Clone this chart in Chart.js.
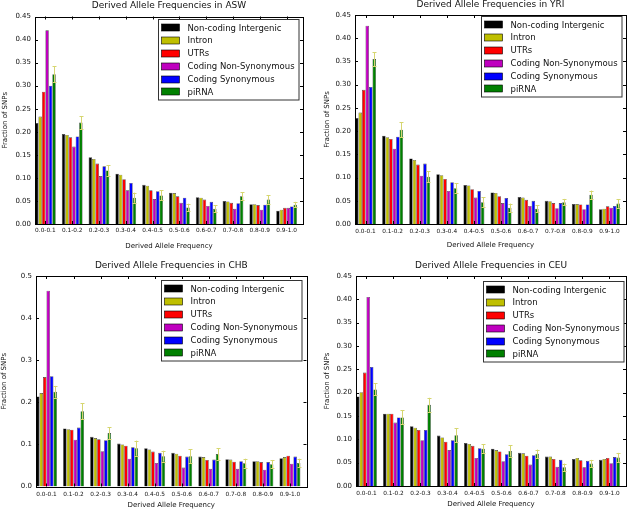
<!DOCTYPE html>
<html><head><meta charset="utf-8">
<script src="https://cdn.jsdelivr.net/npm/chart.js@4.4.0/dist/chart.umd.min.js"></script>
<style>
html,body{margin:0;padding:0;background:#fff;width:629px;height:510px;overflow:hidden;}
canvas{position:absolute;}
</style></head><body>
<canvas id="c1" width="314" height="255" style="left:0;top:0;width:314px;height:255px"></canvas>
<canvas id="c2" width="315" height="255" style="left:314px;top:0;width:315px;height:255px"></canvas>
<canvas id="c3" width="314" height="255" style="left:0;top:255px;width:314px;height:255px"></canvas>
<canvas id="c4" width="315" height="255" style="left:314px;top:255px;width:315px;height:255px"></canvas>
<script>
// ---------- data ----------
const categories = ['0.0-0.1','0.1-0.2','0.2-0.3','0.3-0.4','0.4-0.5','0.5-0.6','0.6-0.7','0.7-0.8','0.8-0.9','0.9-1.0'];
const seriesNames = ['Non-coding Intergenic','Intron','UTRs','Coding Non-Synonymous','Coding Synonymous','piRNA'];
const yTicks045 = ['0.00','0.05','0.10','0.15','0.20','0.25','0.30','0.35','0.40','0.45'];
const yTicks05 = ['0.0','0.1','0.2','0.3','0.4','0.5'];

// ASW
const aswIntergenic = [0.219,0.195,0.145,0.109,0.085,0.068,0.058,0.050,0.043,0.029];
const aswIntron     = [0.233,0.193,0.141,0.107,0.083,0.067,0.057,0.049,0.043,0.031];
const aswUTR        = [0.287,0.188,0.131,0.097,0.073,0.060,0.053,0.046,0.041,0.035];
const aswNonSyn     = [0.420,0.168,0.104,0.073,0.054,0.046,0.039,0.033,0.031,0.035];
const aswSyn        = [0.300,0.190,0.125,0.089,0.071,0.057,0.048,0.045,0.042,0.038];
const aswPiRNA      = [0.325,0.220,0.116,0.057,0.062,0.036,0.033,0.060,0.053,0.042];
const aswPiRNAErr   = [0.017,0.014,0.012,0.011,0.011,0.008,0.008,0.009,0.009,0.006];
// YRI
const yriIntergenic = [0.228,0.190,0.141,0.107,0.084,0.068,0.058,0.050,0.043,0.032];
const yriIntron     = [0.240,0.187,0.138,0.105,0.083,0.067,0.057,0.049,0.043,0.033];
const yriUTR        = [0.289,0.183,0.128,0.097,0.075,0.060,0.052,0.045,0.042,0.038];
const yriNonSyn     = [0.427,0.162,0.104,0.071,0.057,0.045,0.039,0.034,0.032,0.035];
const yriSyn        = [0.295,0.188,0.130,0.090,0.071,0.056,0.050,0.045,0.042,0.039];
const yriPiRNA      = [0.355,0.203,0.102,0.077,0.047,0.035,0.033,0.047,0.063,0.044];
const yriPiRNAErr   = [0.015,0.016,0.012,0.011,0.011,0.009,0.008,0.007,0.009,0.009];
// CHB
const chbIntergenic = [0.214,0.138,0.118,0.102,0.091,0.080,0.071,0.065,0.060,0.067];
const chbIntron     = [0.222,0.136,0.115,0.100,0.088,0.078,0.070,0.064,0.060,0.070];
const chbUTR        = [0.260,0.135,0.112,0.097,0.083,0.073,0.063,0.059,0.058,0.073];
const chbNonSyn     = [0.465,0.111,0.084,0.066,0.056,0.045,0.042,0.042,0.040,0.054];
const chbSyn        = [0.262,0.140,0.110,0.093,0.080,0.071,0.064,0.060,0.058,0.071];
const chbPiRNA      = [0.225,0.179,0.127,0.091,0.072,0.072,0.077,0.055,0.053,0.056];
const chbPiRNAErr   = [0.014,0.019,0.014,0.018,0.013,0.016,0.014,0.011,0.010,0.010];
// CEU
const ceuIntergenic = [0.192,0.155,0.128,0.108,0.092,0.080,0.071,0.063,0.058,0.056];
const ceuIntron     = [0.201,0.155,0.125,0.104,0.090,0.077,0.070,0.063,0.060,0.058];
const ceuUTR        = [0.243,0.155,0.120,0.095,0.086,0.074,0.065,0.058,0.055,0.060];
const ceuNonSyn     = [0.405,0.136,0.098,0.077,0.060,0.053,0.046,0.041,0.040,0.049];
const ceuSyn        = [0.255,0.147,0.120,0.098,0.081,0.068,0.066,0.056,0.054,0.062];
const ceuPiRNA      = [0.207,0.147,0.174,0.109,0.080,0.075,0.069,0.040,0.048,0.061];
const ceuPiRNAErr   = [0.013,0.015,0.015,0.015,0.009,0.012,0.009,0.008,0.008,0.010];

// ---------- styles ----------
const seriesColors = ['#000000','#bfbf00','#ff0000','#bf00bf','#0000ff','#008000'];
const FONT = '"DejaVu Sans", "Liberation Sans", sans-serif';
const TXT = '#111111';

const framePlugin = {
  id: 'frameTicks',
  afterDatasetsDraw(chart, args, opts) {
    const {ctx, chartArea: a} = chart;
    const xs = chart.scales.x, ys = chart.scales.y;
    ctx.save();
    // error bars on piRNA
    if (opts.errors) {
      const meta = chart.getDatasetMeta(5);
      const vals = chart.data.datasets[5].data;
      ctx.strokeStyle = '#d6d670';
      ctx.lineWidth = 1;
      meta.data.forEach((el, i) => {
        const v = vals[i].y, e = opts.errors[i];
        const y1 = ys.getPixelForValue(v + e), y2 = ys.getPixelForValue(v - e);
        const x = Math.round(el.x) + 0.5;
        ctx.beginPath();
        ctx.moveTo(x, y1); ctx.lineTo(x, y2);
        ctx.moveTo(x - 2, Math.round(y1) + 0.5); ctx.lineTo(x + 2, Math.round(y1) + 0.5);
        ctx.moveTo(x - 2, Math.round(y2) + 0.5); ctx.lineTo(x + 2, Math.round(y2) + 0.5);
        ctx.stroke();
      });
    }
    // frame
    ctx.strokeStyle = '#000';
    ctx.lineWidth = 1;
    ctx.strokeRect(Math.round(a.left) + 0.5, Math.round(a.top) + 0.5, Math.round(a.right) - Math.round(a.left), Math.round(a.bottom) - Math.round(a.top));
    // inward ticks
    ctx.beginPath();
    ys.ticks.forEach(t => {
      const y = Math.round(ys.getPixelForValue(t.value)) + 0.5;
      ctx.moveTo(a.left, y); ctx.lineTo(a.left + 3, y);
      ctx.moveTo(a.right, y); ctx.lineTo(a.right - 3, y);
    });
    xs.ticks.forEach(t => {
      const x = Math.round(xs.getPixelForValue(t.value)) + 0.5;
      ctx.moveTo(x, a.bottom); ctx.lineTo(x, a.bottom - 3);
      ctx.moveTo(x, a.top); ctx.lineTo(x, a.top + 3);
    });
    ctx.stroke();
    // legend box
    const lg = opts.legend;
    const w = 140.5, h = 80.5;
    const bx = Math.round(a.right - lg.right - w) + 0.5, by = Math.round(a.top + lg.top) + 0.5;
    ctx.fillStyle = '#fff';
    ctx.fillRect(bx, by, w, h);
    ctx.strokeStyle = '#333';
    ctx.strokeRect(bx, by, w, h);
    ctx.font = '8.5px ' + FONT;
    ctx.textBaseline = 'middle';
    ctx.textAlign = 'left';
    chart.data.datasets.forEach((ds, i) => {
      const cy = by + 8.3 + i * 12.8;
      ctx.fillStyle = ds.backgroundColor;
      ctx.fillRect(bx + 3, Math.round(cy - 3.5), 18, 7);
      ctx.strokeStyle = '#000';
      ctx.lineWidth = 0.6;
      ctx.strokeRect(bx + 3, Math.round(cy - 3.5), 18, 7);
      ctx.fillStyle = TXT;
      ctx.fillText(ds.label, bx + 29, cy + 0.5);
    });
    ctx.restore();
  }
};

function makeChart(id, cfg) {
  const el = document.getElementById(id);
  const W = el.width, H = el.height;
  const datasets = cfg.series.map((vals, i) => ({
    label: seriesNames[i],
    data: vals.map((v, j) => ({x: j, y: v})),
    backgroundColor: seriesColors[i],
    borderColor: 'rgba(0,0,0,0.75)',
    borderWidth: 0.6,
    categoryPercentage: 0.775,
    barPercentage: 1.0
  }));
  return new Chart(el, {
    type: 'bar',
    data: {datasets},
    plugins: [framePlugin],
    options: {
      responsive: false,
      animation: false,
      devicePixelRatio: 1,
      layout: {padding: {left: 0, top: 0, bottom: 0, right: W - cfg.area.R}},
      plugins: {
        legend: {display: false},
        tooltip: {enabled: false},
        title: {
          display: true, text: cfg.title, fullSize: false, color: TXT,
          font: {family: FONT, size: 9, weight: 'normal', lineHeight: 1},
          padding: {top: cfg.titlePad[0], bottom: cfg.titlePad[1]}
        },
        frameTicks: {errors: cfg.errors, legend: cfg.legend}
      },
      scales: {
        x: {
          type: 'linear',
          min: -0.3875, max: 9.6125,
          offset: false,
          afterBuildTicks: s => { s.ticks = categories.map((c, i) => ({value: i})); },
          afterFit: s => { s.height = H - cfg.area.B; },
          grid: {display: false, drawTicks: false},
          border: {display: false},
          ticks: {
            autoSkip: false, maxRotation: 0, minRotation: 0,
            padding: cfg.xTickPad, color: TXT,
            font: {family: FONT, size: 5.8},
            callback: v => categories[v]
          },
          title: {
            display: true, text: 'Derived Allele Frequency', color: TXT,
            font: {family: FONT, size: 7, lineHeight: 1},
            padding: {top: 0, bottom: cfg.xTitlePad}
          }
        },
        y: {
          min: 0, max: cfg.yMax,
          afterBuildTicks: s => { s.ticks = cfg.yLabels.map((t, i) => ({value: i * cfg.yStep})); },
          afterFit: s => { s.width = cfg.area.L; },
          grid: {display: false, drawTicks: false},
          border: {display: false},
          ticks: {
            padding: 4, color: TXT,
            font: {family: FONT, size: 7},
            callback: (v, i) => cfg.yLabels[i]
          },
          title: {
            display: true, text: 'Fraction of SNPs', color: TXT,
            font: {family: FONT, size: 7, lineHeight: 1},
            padding: {top: cfg.yTitlePad, bottom: 0}
          }
        }
      }
    }
  });
}

makeChart('c1', {
  title: 'Derived Allele Frequencies in ASW',
  series: [aswIntergenic, aswIntron, aswUTR, aswNonSyn, aswSyn, aswPiRNA],
  errors: aswPiRNAErr,
  yMax: 0.45, yStep: 0.05, yLabels: yTicks045,
  area: {L: 35, R: 303, B: 224},
  titlePad: [1.5, 6],
  xTickPad: 3, xTitlePad: 5.8, yTitlePad: 1.2,
  legend: {right: 5, top: 2.5}
});
makeChart('c2', {
  title: 'Derived Allele Frequencies in YRI',
  series: [yriIntergenic, yriIntron, yriUTR, yriNonSyn, yriSyn, yriPiRNA],
  errors: yriPiRNAErr,
  yMax: 0.45, yStep: 0.05, yLabels: yTicks045,
  area: {L: 41, R: 312, B: 224},
  titlePad: [0.2, 5.8],
  xTickPad: 3.7, xTitlePad: 6.5, yTitlePad: 9.2,
  legend: {right: 4.7, top: 1}
});
makeChart('c3', {
  title: 'Derived Allele Frequencies in CHB',
  series: [chbIntergenic, chbIntron, chbUTR, chbNonSyn, chbSyn, chbPiRNA],
  errors: chbPiRNAErr,
  yMax: 0.5, yStep: 0.1, yLabels: yTicks05,
  area: {L: 36, R: 306.5, B: 231.5},
  titlePad: [6.5, 5.5],
  xTickPad: 4.3, xTitlePad: 1.5, yTitlePad: 0.5,
  legend: {right: 4.8, top: 4}
});
makeChart('c4', {
  title: 'Derived Allele Frequencies in CEU',
  series: [ceuIntergenic, ceuIntron, ceuUTR, ceuNonSyn, ceuSyn, ceuPiRNA],
  errors: ceuPiRNAErr,
  yMax: 0.45, yStep: 0.05, yLabels: yTicks045,
  area: {L: 42, R: 312, B: 231},
  titlePad: [6.2, 5.8],
  xTickPad: 4.4, xTitlePad: 2.2, yTitlePad: 9.2,
  legend: {right: 3, top: 4.7}
});
</script>
</body></html>
